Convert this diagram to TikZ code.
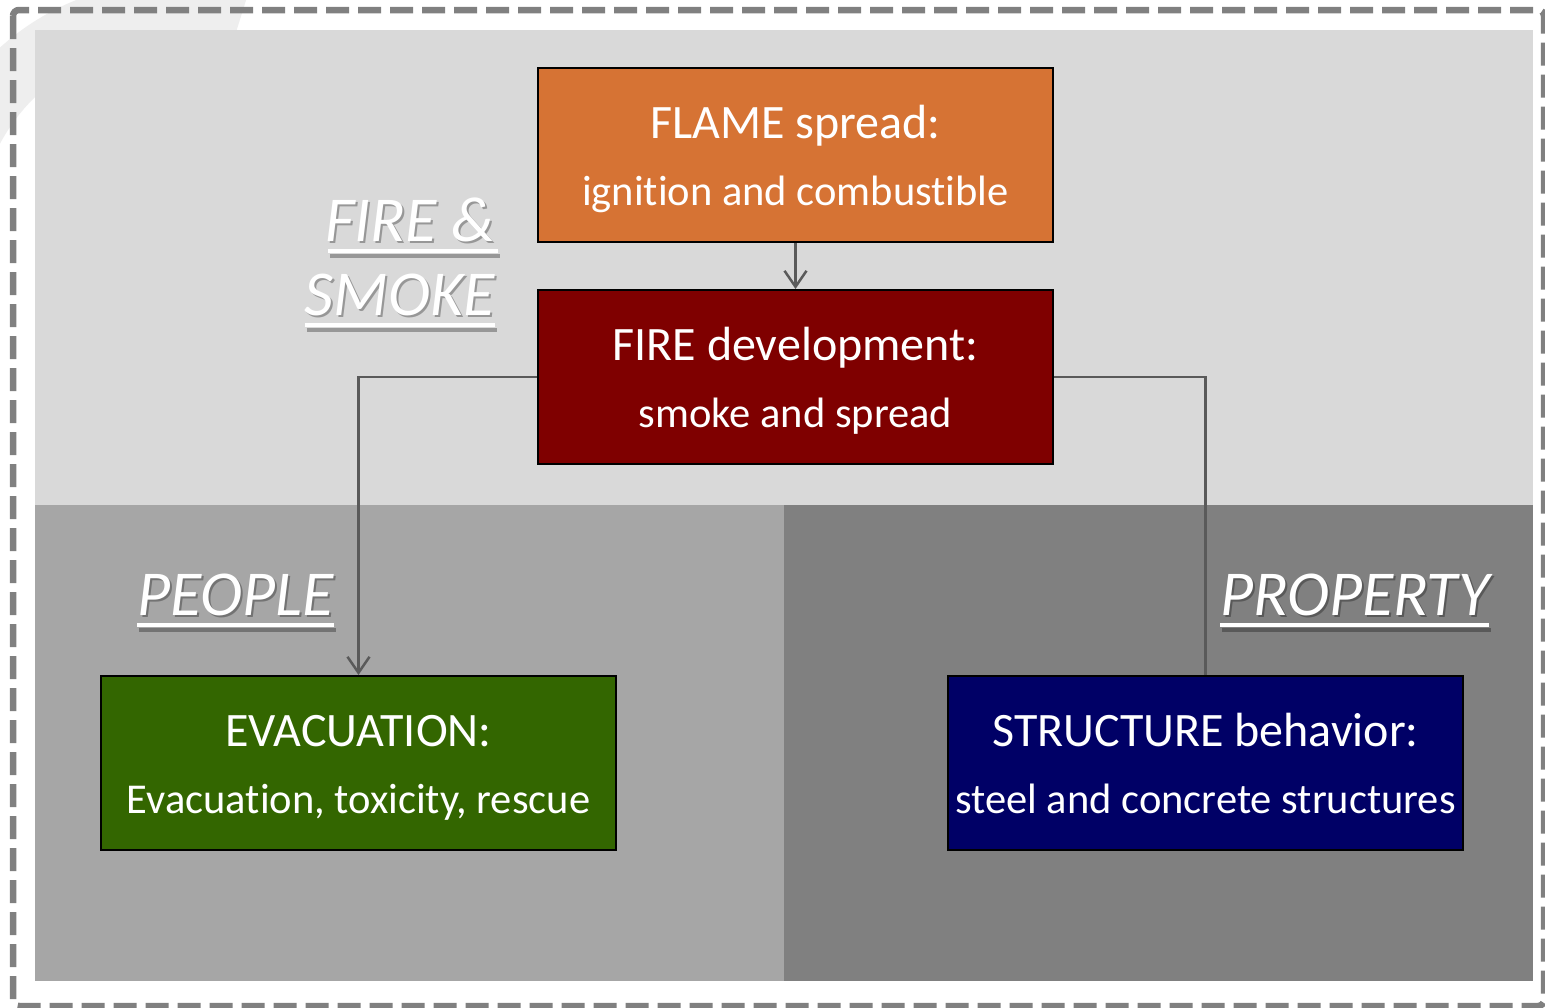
\documentclass[tikz,border=0pt]{standalone}
\usepackage{fontspec}
\setmainfont[Ligatures={NoCommon}]{Carlito}
\usetikzlibrary{arrows.meta}
\definecolor{panelA}{HTML}{D9D9D9}
\definecolor{panelB}{HTML}{A6A6A6}
\definecolor{panelC}{HTML}{808080}
\definecolor{flameC}{HTML}{D67334}
\definecolor{fireC}{HTML}{7F0000}
\definecolor{evacC}{HTML}{336600}
\definecolor{structC}{HTML}{000066}
\definecolor{connC}{HTML}{5A5A5A}
\definecolor{faintC}{HTML}{EEEEEE}
\tikzset{
  boxnode/.style={draw=black, line width=2pt, minimum width=515pt, minimum height=174pt, inner sep=0pt},
  boxtitle/.style={text=white, font=\fontsize{48}{48}\selectfont, inner sep=0pt, anchor=base},
  boxtext/.style={text=white, font=\fontsize{42.5}{42.5}\selectfont, inner sep=0pt, anchor=base},
  conn/.style={draw=connC, line width=2.5pt},
  arr/.style={-{Straight Barb[length=16pt,width=22pt]}},
  lab/.style={text=white, font=\fontsize{64}{64}\selectfont\itshape, inner sep=0pt},
  labshadow/.style={text=black, opacity=0.3, font=\fontsize{64}{64}\selectfont\itshape, inner sep=0pt},
  uline/.style={draw=white, line width=3.5pt},
  ushadow/.style={draw=black, opacity=0.3, line width=3.5pt}
}
\begin{document}
\begin{tikzpicture}[x=1pt,y=-1pt]
\useasboundingbox (0,0) rectangle (1545,1007);
\fill[white] (0,0) rectangle (1545,1007);
% faint background arc
\draw[faintC, line width=60pt] (170,235) ++(-152:223) arc[start angle=-152, end angle=-72, radius=223];
% dashed frame
\draw[panelC, line width=6.5pt, dash pattern=on 23pt off 9pt, rounded corners=6pt] (13,10) rectangle (1544,1006);
% panels
\fill[panelA] (35,30) rectangle (1533,505);
\fill[panelB] (35,505) rectangle (784,981);
\fill[panelC] (784,505) rectangle (1533,981);
% boxes
\node[boxnode, fill=flameC] (flame) at (795.5,155) {};
\node[boxnode, fill=fireC] (fire) at (795.5,377) {};
\node[boxnode, fill=evacC] (evac) at (358.5,763) {};
\node[boxnode, fill=structC] (struct) at (1205.5,763) {};
% box texts
\node[boxtitle] (flameA) at (795.5,138) {FLAME spread:};
\node[boxtext] (flameB) at (795.5,205) {ignition and combustible};
\node[boxtitle] (fireA) at (795.5,360) {FIRE development:};
\node[boxtext] (fireB) at (795.5,427) {smoke and spread};
\node[boxtitle] (evacA) at (358.5,746) {EVACUATION:};
\node[boxtext] (evacB) at (358.5,813) {Evacuation, toxicity, rescue};
\node[boxtitle] (structA) at (1205.5,746) {STRUCTURE behavior:};
\node[boxtext] (structB) at (1205.5,813) {steel and concrete structures};
% connectors
\draw[conn, arr] (flame.south) -- (fire.north);
\draw[conn, arr] (fire.west) -| (evac.north);
\draw[conn] (fire.east) -| (struct.north);
% labels with shadows
\node[labshadow, anchor=base east] (fsA) at (497,243) {FIRE \&};
\node[labshadow, anchor=base east] (fsB) at (497,317) {SMOKE};
\node[labshadow, anchor=base west] (peS) at (139,617) {PEOPLE};
\node[labshadow, anchor=base west] (prS) at (1222,617) {PROPERTY};
\draw[ushadow] ([shift={(3pt,-13pt)}]fsA.base west) -- ([shift={(3pt,-13pt)}]fsA.base east);
\draw[ushadow] ([shift={(0pt,-13pt)}]fsB.base west) -- ([shift={(0pt,-13pt)}]fsB.base east);
\draw[ushadow] ([shift={(0pt,-13pt)}]peS.base west) -- ([shift={(0pt,-13pt)}]peS.base east);
\draw[ushadow] ([shift={(0pt,-13pt)}]prS.base west) -- ([shift={(0pt,-13pt)}]prS.base east);
\node[lab, anchor=base east] (fsa) at (495,241) {FIRE \&};
\node[lab, anchor=base east] (fsb) at (495,315) {SMOKE};
\node[lab, anchor=base west] (pe) at (137,615) {PEOPLE};
\node[lab, anchor=base west] (pr) at (1220,615) {PROPERTY};
\draw[uline] ([shift={(3pt,-10pt)}]fsa.base west) -- ([shift={(3pt,-10pt)}]fsa.base east);
\draw[uline] ([yshift=-10pt]fsb.base west) -- ([yshift=-10pt]fsb.base east);
\draw[uline] ([yshift=-10pt]pe.base west) -- ([yshift=-10pt]pe.base east);
\draw[uline] ([yshift=-10pt]pr.base west) -- ([yshift=-10pt]pr.base east);
\end{tikzpicture}
\end{document}
